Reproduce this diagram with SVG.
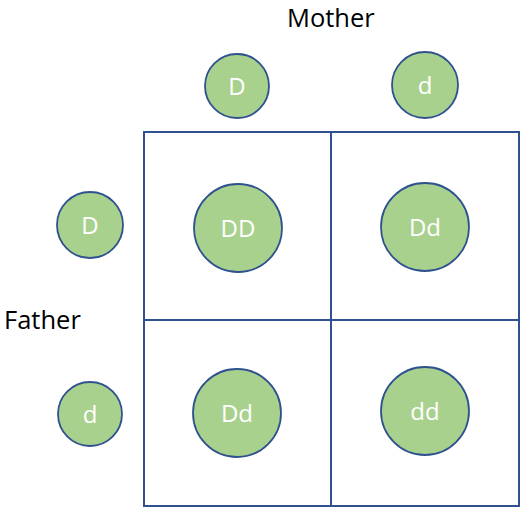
<svg xmlns="http://www.w3.org/2000/svg" width="526" height="515" viewBox="0 0 526 515">
<style>
.c{fill:#A9D18E;stroke:#2F528F;stroke-width:1.8}
.t{font-family:"Open Sans","Noto Sans",sans-serif;font-size:24px;fill:#FFFFFF;text-anchor:middle}
.l{font-family:"Open Sans","Noto Sans",sans-serif;font-size:25.5px;fill:#000000}
.g{fill:none;stroke:#2F528F;stroke-width:2}
</style>
<rect width="526" height="515" fill="#FFFFFF"/>
<g id="grid">
<rect class="g" x="144" y="132" width="375" height="374"/>
<line class="g" x1="331" y1="132" x2="331" y2="506"/>
<line class="g" x1="144" y1="320" x2="519" y2="320"/>
</g>
<g id="connectors"></g>
<text id="mother" class="l" x="287" y="27">Mother</text>
<text id="father" class="l" x="4" y="329">Father</text>
<g id="m1"><circle class="c" cx="237" cy="86" r="32"/><text class="t" x="237" y="95">D</text></g>
<g id="m2"><circle class="c" cx="425" cy="85" r="33"/><text class="t" x="425" y="94">d</text></g>
<g id="f1"><circle class="c" cx="90" cy="225" r="33"/><text class="t" x="90" y="234">D</text></g>
<g id="f2"><circle class="c" cx="90" cy="414" r="32"/><text class="t" x="90" y="423">d</text></g>
<g id="dd1"><circle class="c" cx="238" cy="228" r="44"/><text class="t" x="238" y="237">DD</text></g>
<g id="dd2"><circle class="c" cx="425" cy="227" r="44"/><text class="t" x="425" y="236">Dd</text></g>
<g id="dd3"><circle class="c" cx="237" cy="413" r="44"/><text class="t" x="237" y="422">Dd</text></g>
<g id="dd4"><circle class="c" cx="425" cy="411" r="44"/><text class="t" x="425" y="420">dd</text></g>
</svg>
